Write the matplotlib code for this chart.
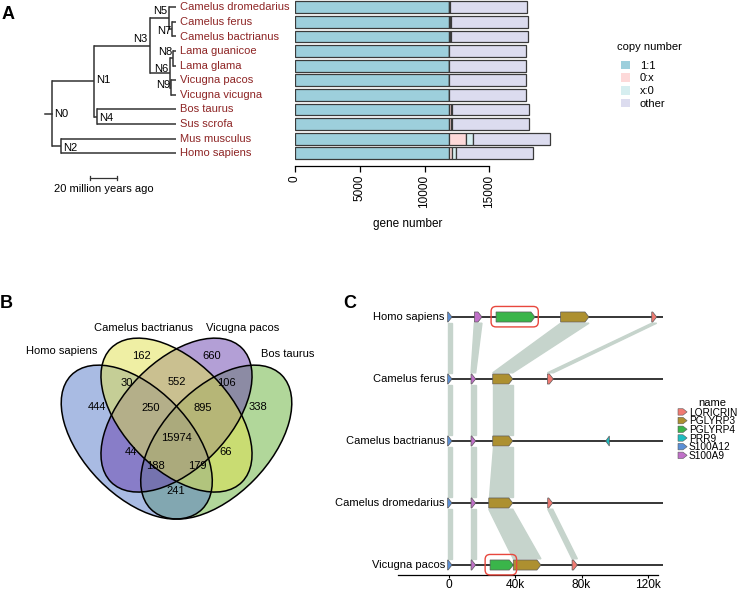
import matplotlib
matplotlib.use('Agg')
import matplotlib.pyplot as plt
from matplotlib.patches import Ellipse, Polygon, FancyBboxPatch, Patch
from matplotlib.legend_handler import HandlerPatch
import numpy as np

plt.rcParams['font.family'] = ['Liberation Sans', 'DejaVu Sans']
plt.rcParams['font.size'] = 8

# ---------------- panel A data ----------------
species = ['Camelus dromedarius', 'Camelus ferus', 'Camelus bactrianus', 'Lama guanicoe',
           'Lama glama', 'Vicugna pacos', 'Vicugna vicugna', 'Bos taurus', 'Sus scrofa',
           'Mus musculus', 'Homo sapiens']
one_to_one = [11910, 11910, 11910, 11900, 11900, 11900, 11900, 11890, 11880, 11860, 11860]
zero_x = [20, 60, 70, 10, 10, 10, 10, 120, 180, 1340, 260]
x_zero = [20, 60, 70, 10, 10, 10, 10, 130, 40, 520, 310]
other = [5930, 5930, 5910, 5910, 5910, 5910, 5940, 5920, 5990, 5970, 5970]
copy_labels = ['1:1', '0:x', 'x:0', 'other']

# species tree (ages in million years)
tree = ('N0', [('N1', [('N3', [('N5', ['Camelus dromedarius',
                                       ('N7', ['Camelus ferus', 'Camelus bactrianus'])]),
                               ('N6', [('N8', ['Lama guanicoe', 'Lama glama']),
                                       ('N9', ['Vicugna pacos', 'Vicugna vicugna'])])]),
                       ('N4', ['Bos taurus', 'Sus scrofa'])]),
              ('N2', ['Mus musculus', 'Homo sapiens'])])
node_age = {'N0': 92, 'N1': 61, 'N2': 85, 'N3': 19.5, 'N4': 58.5,
            'N5': 5.2, 'N6': 4.4, 'N7': 3.0, 'N8': 2.2, 'N9': 4.0}
scale_mya = 20

# ---------------- panel B data ----------------
venn_sets = ['Homo sapiens', 'Camelus bactrianus', 'Vicugna pacos', 'Bos taurus']
region_keys = ['1', '2', '3', '4', '12', '23', '34', '123', '234', '1234',
               '13', '24', '134', '124', '14']
region_counts = [444, 162, 660, 338, 30, 552, 106, 250, 895, 15974,
                 44, 66, 188, 179, 241]

# ---------------- panel C data ----------------
genomes = ['Homo sapiens', 'Camelus ferus', 'Camelus bactrianus', 'Camelus dromedarius', 'Vicugna pacos']
genome_end = [129000, 129000, 129000, 129000, 129000]
gene_genome = ['Homo sapiens'] * 5 + ['Camelus ferus'] * 4 + ['Camelus bactrianus'] * 4 + \
              ['Camelus dromedarius'] * 4 + ['Vicugna pacos'] * 5
gene_name = ['S100A12', 'S100A9', 'PGLYRP4', 'PGLYRP3', 'LORICRIN',
             'S100A12', 'S100A9', 'PGLYRP3', 'LORICRIN',
             'S100A12', 'S100A9', 'PGLYRP3', 'PRR9',
             'S100A12', 'S100A9', 'PGLYRP3', 'LORICRIN',
             'S100A12', 'S100A9', 'PGLYRP4', 'PGLYRP3', 'LORICRIN']
gene_start = [-800, 15300, 28400, 67400, 122400,
              -800, 13300, 26400, 59400,
              -800, 13300, 26400, 94600,
              -800, 13300, 24000, 59600,
              -800, 13300, 24800, 38800, 74300]
gene_end = [1800, 19900, 51900, 84500, 125400,
            1800, 16100, 38500, 63000,
            1800, 16100, 38500, 96800,
            1800, 16100, 38500, 62600,
            1800, 16100, 38800, 55500, 77500]
gene_strand = [1] * 12 + [-1] + [1] * 9
legend_genes = ['LORICRIN', 'PGLYRP3', 'PGLYRP4', 'PRR9', 'S100A12', 'S100A9']

# ---------------- styles ----------------
W, H = 744, 591
copy_colors = ['#9dcfdc', '#fdd9d9', '#d6eef0', '#dcdcef']
leaf_color = '#8e2525'
tree_color = '#333333'
venn_colors = ['#5579c9', '#e1e14b', '#6941af', '#65b137']
gene_colors = {'LORICRIN': '#f07a72', 'PGLYRP3': '#ad9030', 'PGLYRP4': '#3ab54a',
               'PRR9': '#1fbcc0', 'S100A12': '#5b8fd6', 'S100A9': '#c070c8'}
ribbon_color = '#c6d4cc'


def box(l, t, w, h):
    return [l / W, 1 - (t + h) / H, w / W, h / H]


fig = plt.figure(figsize=(W / 100, H / 100), dpi=100)

# ======================= A : bars =======================
axb = fig.add_axes(box(295, 0, 259, 160.6))
yy = np.arange(len(species))
left = np.zeros(len(species))
for vals, col in zip([one_to_one, zero_x, x_zero, other], copy_colors):
    axb.barh(yy, vals, left=left, height=0.8, color=col, edgecolor='#3a3a3a', linewidth=0.9)
    left += np.array(vals)
axb.set_xlim(0, 20000)
axb.set_ylim(10.5, -0.5)
axb.set_yticks([])
for s in ['top', 'right', 'left']:
    axb.spines[s].set_visible(False)
axb.spines['bottom'].set_position(('outward', 4))
axb.spines['bottom'].set_bounds(0, 15000)
axb.spines['bottom'].set_linewidth(0.9)
axb.set_xticks([0, 5000, 10000, 15000])
axb.tick_params(axis='x', length=4.3, width=0.9, pad=2, labelsize=8.5, labelrotation=90)
axb.set_xlabel('gene number', fontsize=8.5)
axb.xaxis.set_label_coords((408 - 295) / 259, -0.36)

fig.text(617 / W, 1 - 47 / H, 'copy number', ha='left', va='center', fontsize=8)
fig.legend([Patch(facecolor=c) for c in copy_colors], copy_labels, loc='upper left',
           bbox_to_anchor=(621 / W, 1 - 60.5 / H), frameon=False, borderpad=0, borderaxespad=0,
           handlelength=0.8, handleheight=0.8, handletextpad=0.9, labelspacing=0.24,
           fontsize=8)

# ======================= A : tree =======================
axt = fig.add_axes(box(40, 0, 140, 160.6))
axt.set_ylim(10.5, -0.5)
axt.set_xlim(100.7, -2.96)
axt.axis('off')

# node label placement: ha, va, dx, dy (points)
node_label = {'N0': ('left', 'center', 1.5, 0), 'N1': ('left', 'center', 2, 1),
              'N4': ('left', 'center', 1.5, -1), 'N2': ('left', 'center', 1.5, -1.5),
              'N3': ('right', 'baseline', -1.5, 2.5), 'N5': ('right', 'baseline', -1.5, 3),
              'N7': ('right', 'center', -0.5, -1.5), 'N8': ('right', 'baseline', -0.5, 2.5),
              'N6': ('right', 'baseline', -1.5, 1), 'N9': ('right', 'center', -0.5, 2)}


def draw_node(node):
    if isinstance(node, str):
        y = species.index(node)
        axt.annotate(node, (0, y), xytext=(2.8, 0), textcoords='offset points',
                     ha='left', va='center', color=leaf_color, fontsize=8, annotation_clip=False)
        return y, 0.0
    name, children = node
    a = node_age[name]
    ys = []
    for c in children:
        cy, ca = draw_node(c)
        axt.plot([a, ca], [cy, cy], color=tree_color, lw=1.1, solid_capstyle='butt')
        ys.append(cy)
    axt.plot([a, a], [min(ys), max(ys)], color=tree_color, lw=1.1, solid_capstyle='projecting')
    yn = (min(ys) + max(ys)) / 2
    ha, va, dx, dy = node_label[name]
    axt.annotate(name, (a, yn), xytext=(dx, dy), textcoords='offset points',
                 ha=ha, va=va, fontsize=8, annotation_clip=False)
    return yn, a


root_y, root_age = draw_node(tree)
axt.plot([root_age + 5, root_age], [root_y, root_y], color=tree_color, lw=1.1)
# scale bar
sb_start = 63.7
axt.plot([sb_start, sb_start - scale_mya], [11.68, 11.68], color=tree_color, lw=0.9, clip_on=False)
for xe in [sb_start, sb_start - scale_mya]:
    axt.plot([xe, xe], [11.55, 11.81], color=tree_color, lw=0.9, clip_on=False)
axt.text(sb_start - scale_mya / 2, 12.42, f'{scale_mya} million years ago', ha='center',
         va='center', fontsize=8, clip_on=False)

# ======================= B : venn =======================
axv = fig.add_axes(box(44, 299, 265, 270))
axv.set_xlim(0, 1)
axv.set_ylim(0, 1)
axv.axis('off')
ell_geom = [((0.35, 0.47), -45), ((0.5, 0.57), -45), ((0.5, 0.57), 45), ((0.65, 0.47), 45)]
for i in [3, 0, 2, 1]:
    (cx, cy), ang = ell_geom[i]
    axv.add_patch(Ellipse((cx, cy), 0.7, 0.4, angle=ang, facecolor=venn_colors[i],
                          alpha=0.5, edgecolor='none'))
for (cx, cy), ang in ell_geom:
    axv.add_patch(Ellipse((cx, cy), 0.7, 0.4, angle=ang, facecolor='none',
                          edgecolor='black', lw=1.1))
region_pos = {'1': (0.198, 0.600), '2': (0.367, 0.789), '3': (0.633, 0.789), '4': (0.806, 0.600),
              '12': (0.313, 0.689), '23': (0.5, 0.693), '34': (0.687, 0.689),
              '123': (0.402, 0.596), '234': (0.598, 0.596), '1234': (0.5, 0.485),
              '13': (0.327, 0.433), '24': (0.685, 0.433), '134': (0.421, 0.381),
              '124': (0.579, 0.381), '14': (0.496, 0.289)}
for k, n in zip(region_keys, region_counts):
    axv.text(*region_pos[k], str(n), ha='center', va='center', fontsize=8)
set_label_pos = [(0.068, 0.807), (0.374, 0.893), (0.751, 0.893), (0.921, 0.796)]
for name, (sx, sy) in zip(venn_sets, set_label_pos):
    axv.text(sx, sy, name, ha='center', va='center', fontsize=8, clip_on=False)

# ======================= C : gene arrows =======================
axc = fig.add_axes(box(398, 295, 265, 280))
axc.set_xlim(-30800, 129200)
axc.set_ylim(4 + 10 / 62, -22 / 62)
for s in ['top', 'right', 'left']:
    axc.spines[s].set_visible(False)
axc.spines['bottom'].set_bounds(-30800, 126200)
axc.spines['bottom'].set_linewidth(0.9)
axc.set_yticks([])
axc.set_xticks([0, 40000, 80000, 120000])
axc.set_xticklabels(['0', '40k', '80k', '120k'])
axc.tick_params(axis='x', length=2, width=0.8, pad=1.2, labelsize=8.6)

half_h = 0.081
head = 2400
gap = 0.1

# synteny ribbons between consecutive genomes
for r in range(len(genomes) - 1):
    g1, g2 = genomes[r], genomes[r + 1]
    for i in range(len(gene_name)):
        if gene_genome[i] != g1:
            continue
        for j in range(len(gene_name)):
            if gene_genome[j] == g2 and gene_name[j] == gene_name[i]:
                axc.add_patch(Polygon([(gene_start[i], r + gap), (gene_end[i], r + gap),
                                       (gene_end[j], r + 1 - gap), (gene_start[j], r + 1 - gap)],
                                      closed=True, facecolor=ribbon_color, edgecolor=ribbon_color,
                                      lw=1.0, zorder=1))

for r, (g, gend) in enumerate(zip(genomes, genome_end)):
    axc.plot([0, gend], [r, r], color='black', lw=1.1, zorder=2)
    axc.annotate(g, (0, r), xytext=(-3, 0), textcoords='offset points', ha='right',
                 va='center', fontsize=8, annotation_clip=False)

for g, nm, st, en, sd in zip(gene_genome, gene_name, gene_start, gene_end, gene_strand):
    r = genomes.index(g)
    hd = min(head, en - st)
    if sd > 0:
        pts = [(st, r - half_h), (en - hd, r - half_h), (en, r), (en - hd, r + half_h), (st, r + half_h)]
    else:
        pts = [(en, r - half_h), (st + hd, r - half_h), (st, r), (st + hd, r + half_h), (en, r + half_h)]
    axc.add_patch(Polygon(pts, closed=True, facecolor=gene_colors[nm], edgecolor='#5a5a5a',
                          lw=0.5, zorder=3))
    if nm == 'PGLYRP4':
        axc.add_patch(FancyBboxPatch((st - 3000, r - 0.17), en - st + 5000, 0.33,
                                     boxstyle='round,pad=0,rounding_size=3000',
                                     mutation_aspect=0.001656 / 62,
                                     facecolor='none', edgecolor='#e8473d', lw=1.0,
                                     zorder=4, clip_on=False))


def arrow_key(legend, orig_handle, xdescent, ydescent, width, height, fontsize):
    x0, y0 = -xdescent, -ydescent
    return Polygon([(x0, y0), (x0 + 0.55 * width, y0), (x0 + width, y0 + height / 2),
                    (x0 + 0.55 * width, y0 + height), (x0, y0 + height)], closed=True)


fig.text(712.5 / W, 1 - 403 / H, 'name', ha='center', va='center', fontsize=8)
fig.legend([Patch(facecolor=gene_colors[n], edgecolor='#5a5a5a', lw=0.4) for n in legend_genes],
           legend_genes, loc='upper left', bbox_to_anchor=(678 / W, 1 - 407.5 / H),
           frameon=False, borderpad=0, borderaxespad=0, handlelength=0.9, handleheight=0.6,
           handletextpad=0.15, labelspacing=-0.13, fontsize=7.3,
           handler_map={Patch: HandlerPatch(patch_func=arrow_key)})

# panel letters
for lab, (lx, ly) in zip('ABC', [(2, 6), (0, 295), (343, 295)]):
    fig.text(lx / W, 1 - ly / H, lab, ha='left', va='top', fontsize=13, fontweight='bold')

fig.savefig('out.png', dpi=100)
